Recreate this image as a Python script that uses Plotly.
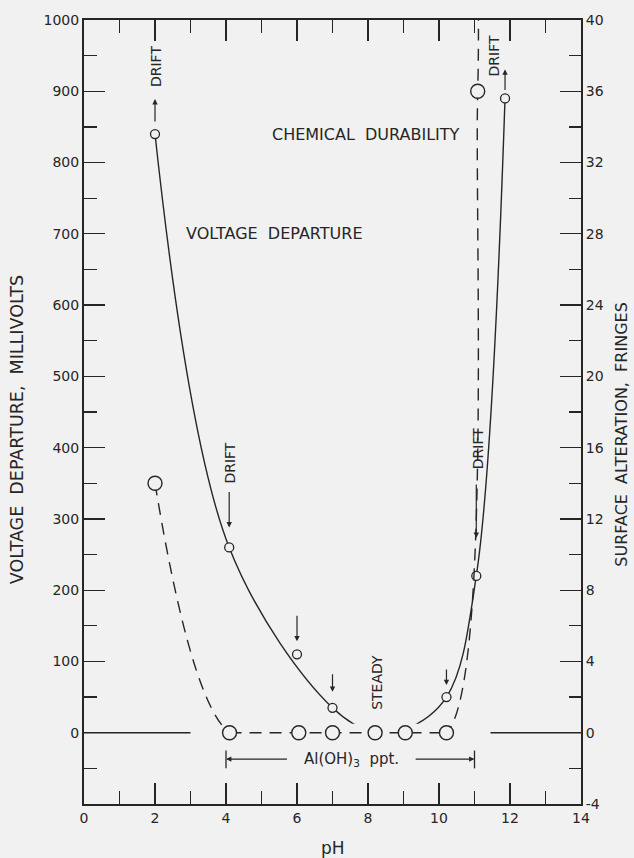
import plotly.graph_objects as go

# ---------------- data ----------------
# Voltage departure (left axis, millivolts) - small circles, solid curve
voltage_ph = [2.0, 4.09, 6.0, 7.0, 8.2, 9.02, 10.21, 11.05, 11.86]
voltage_mv = [840, 260, 110, 35, 0, 4, 50, 220, 890]
voltage_on_curve = [True, True, False, True, True, True, True, True, True]

# Chemical durability (right axis, fringes) - large circles, dashed curve
durability_ph = [2.0, 4.1, 6.05, 7.0, 8.2, 9.05, 10.21, 11.09]
durability_fringes = [14, 0, 0, 0, 0, 0, 0, 36]
# where the dashed curve leaves the top of the chart
durability_exit_ph = [11.1]
durability_exit_fringes = [42]

# solid zero-reference segments (pH ranges at 0 mV)
zero_segments = [(0.0, 3.0), (11.45, 14.0)]

# Al(OH)3 precipitation range (pH)
aloh_range = (4.0, 11.0)

# tick labels
x_ticks = [0, 2, 4, 6, 8, 10, 12, 14]
y_ticks = list(range(0, 1001, 100))
y2_ticks = list(range(-4, 41, 4))

# ---------------- style ----------------
BG = "#f1f1f1"
INK = "#262626"
FONT = "DejaVu Sans"
DASH = "12px,8px"

fig = go.Figure()

# dashed durability curve (smoothed through the measured points)
curve_x = durability_ph + durability_exit_ph
curve_y = durability_fringes + durability_exit_fringes
fig.add_trace(go.Scatter(
    x=curve_x, y=curve_y, yaxis="y2", mode="lines",
    line=dict(color=INK, width=1.4, dash=DASH, shape="spline", smoothing=1.0),
    hoverinfo="skip"))

# flat stretch of the durability curve (points that all sit at zero), drawn straight
flat_x = [x for x, v in zip(durability_ph, durability_fringes) if v == 0]
flat_y = [v for v in durability_fringes if v == 0]
fig.add_trace(go.Scatter(
    x=flat_x, y=flat_y, yaxis="y2", mode="lines",
    line=dict(color=BG, width=18), hoverinfo="skip"))
fig.add_trace(go.Scatter(
    x=flat_x, y=flat_y, yaxis="y2", mode="lines",
    line=dict(color=INK, width=1.4, dash=DASH), hoverinfo="skip"))

# solid voltage curve
vc_x = [x for x, on in zip(voltage_ph, voltage_on_curve) if on]
vc_y = [y for y, on in zip(voltage_mv, voltage_on_curve) if on]
fig.add_trace(go.Scatter(
    x=vc_x, y=vc_y, mode="lines",
    line=dict(color=INK, width=1.4, shape="spline", smoothing=1.0),
    hoverinfo="skip"))

# large circles (durability)
fig.add_trace(go.Scatter(
    x=durability_ph, y=durability_fringes, yaxis="y2", mode="markers",
    marker=dict(symbol="circle", size=14, color=BG, line=dict(color=INK, width=1.4)),
    hoverinfo="skip"))

# small circles (voltage)
fig.add_trace(go.Scatter(
    x=voltage_ph, y=voltage_mv, mode="markers",
    marker=dict(symbol="circle", size=9, color=BG, line=dict(color=INK, width=1.3)),
    hoverinfo="skip"))

shapes = []
for x0, x1 in zero_segments:
    shapes.append(dict(type="line", xref="x", yref="y", x0=x0, x1=x1, y0=0, y1=0,
                       line=dict(color=INK, width=1.4)))
for xb in aloh_range:
    shapes.append(dict(type="line", xref="x", yref="y", x0=xb, x1=xb, y0=-25, y1=-50,
                       line=dict(color=INK, width=1.3)))

annotations = []
txt_font = dict(family=FONT, size=16, color=INK)
small_font = dict(family=FONT, size=14, color=INK)

annotations.append(dict(x=5.38, y=700, xref="x", yref="y", text="VOLTAGE  DEPARTURE",
                        showarrow=False, font=txt_font))
annotations.append(dict(x=7.94, y=840, xref="x", yref="y", text="CHEMICAL  DURABILITY",
                        showarrow=False, font=txt_font))

# drift markers: (point index, text, text yshift, text xshift, arrow yshift, arrow ay)
notes = [
    (0, "DRIFT", 67, 1, 35, 24),
    (1, "DRIFT", 84, 1, 20, -37),
    (2, None, 0, 0, 13, -27),
    (3, None, 0, 0, 16, -19),
    (6, None, 0, 0, 12, -17),
    (7, "DRIFT", 127, 2, 38, -55),
    (8, "DRIFT", 42, -11, 29, 22),
]
for idx, text, tys, txs, ays, ay in notes:
    px, py = voltage_ph[idx], voltage_mv[idx]
    annotations.append(dict(x=px, y=py, xref="x", yref="y", ax=0, ay=ay,
                            yshift=ays, showarrow=True, arrowhead=2, arrowsize=0.9,
                            arrowwidth=1.2, arrowcolor=INK, text=""))
    if text:
        annotations.append(dict(x=px, y=py, xref="x", yref="y", text=text,
                                textangle=-90, showarrow=False, yshift=tys, xshift=txs,
                                font=small_font))
# STEADY
annotations.append(dict(x=voltage_ph[4], y=voltage_mv[4], xref="x", yref="y", text="STEADY",
                        textangle=-90, showarrow=False, yshift=50, xshift=2, font=small_font))

# Al(OH)3 ppt. bracket
annotations.append(dict(x=aloh_range[0], y=-37, ax=5.76, ay=-37, xref="x", yref="y",
                        axref="x", ayref="y", showarrow=True, arrowhead=2, arrowsize=0.9,
                        arrowwidth=1.2, arrowcolor=INK, text=""))
annotations.append(dict(x=aloh_range[1], y=-37, ax=9.3, ay=-37, xref="x", yref="y",
                        axref="x", ayref="y", showarrow=True, arrowhead=2, arrowsize=0.9,
                        arrowwidth=1.2, arrowcolor=INK, text=""))
annotations.append(dict(x=7.53, y=-37, xref="x", yref="y",
                        text="Al(OH)<sub>3</sub>\u00a0\u00a0ppt.", showarrow=False,
                        font=dict(family=FONT, size=15, color=INK)))

# axis titles
annotations.append(dict(xref="paper", yref="paper", x=-0.135, y=0.478, xanchor="center",
                        yanchor="middle", textangle=-90, showarrow=False,
                        text="VOLTAGE\u00a0\u00a0DEPARTURE,\u00a0\u00a0MILLIVOLTS",
                        font=dict(family=FONT, size=17.5, color=INK)))
annotations.append(dict(xref="paper", yref="paper", x=1.0825, y=0.471, xanchor="center",
                        yanchor="middle", textangle=-90, showarrow=False,
                        text="SURFACE\u00a0\u00a0ALTERATION,\u00a0\u00a0FRINGES",
                        font=dict(family=FONT, size=16, color=INK)))
annotations.append(dict(xref="paper", yref="paper", x=0.5, y=-0.056, xanchor="center",
                        yanchor="middle", showarrow=False, text="pH",
                        font=dict(family=FONT, size=17, color=INK)))

tick_font = dict(family=FONT, size=14, color=INK)

fig.update_layout(
    width=634, height=858,
    margin=dict(l=84, r=53, t=17, b=54),
    paper_bgcolor=BG, plot_bgcolor=BG,
    showlegend=False, hovermode=False,
    shapes=shapes, annotations=annotations,
    xaxis=dict(range=[0, 14], tickvals=x_ticks, ticktext=[str(v) for v in x_ticks],
               ticks="inside", ticklen=21, tickwidth=1.3, tickcolor=INK,
               minor=dict(dtick=1, tick0=0, ticks="inside", ticklen=13, tickwidth=1.3,
                          tickcolor=INK),
               showline=True, linecolor=INK, linewidth=2, mirror="ticks",
               showgrid=False, zeroline=False, tickfont=tick_font, fixedrange=True),
    yaxis=dict(range=[-100, 1000], tickvals=y_ticks, ticktext=[str(v) for v in y_ticks],
               ticks="inside", ticklen=21, tickwidth=1.3, tickcolor=INK,
               minor=dict(dtick=50, tick0=-50, ticks="inside", ticklen=13, tickwidth=1.3,
                          tickcolor=INK),
               showline=True, linecolor=INK, linewidth=2,
               showgrid=False, zeroline=False, tickfont=tick_font, fixedrange=True),
    yaxis2=dict(range=[-4, 40], overlaying="y", side="right", anchor="x",
                tickvals=y2_ticks, ticktext=[str(v) for v in y2_ticks],
                ticks="inside", ticklen=21, tickwidth=1.3, tickcolor=INK,
                minor=dict(dtick=2, tick0=0, ticks="inside", ticklen=12, tickwidth=1.3,
                           tickcolor=INK),
                showline=True, linecolor=INK, linewidth=2,
                showgrid=False, zeroline=False, tickfont=tick_font, fixedrange=True),
)

fig.write_html(
    "out.html",
    config={"displayModeBar": False, "staticPlot": True},
    post_script="document.body.style.margin='0';document.body.style.background='%s';" % BG,
)
